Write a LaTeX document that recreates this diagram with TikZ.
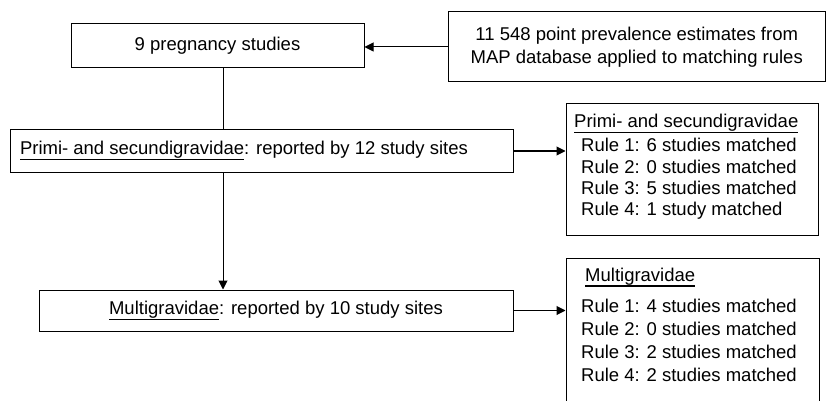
\documentclass[tikz,border=0pt]{standalone}
\usepackage{fontspec}
\setmainfont{Liberation Sans}
\usetikzlibrary{arrows.meta}
\newcommand{\ulin}[1]{\setbox0=\hbox{#1}\rlap{\rule[-5.5pt]{\wd0}{1.4pt}}\box0}

\begin{document}
\begin{tikzpicture}[x=1pt,y=-1pt,
  every node/.style={font=\fontsize{18.5}{22}\selectfont, inner sep=0pt},
  box/.style={draw, line width=1pt},
  arr/.style={-{Triangle[length=9pt,width=9pt]}, line width=1pt}]
   \useasboundingbox (0,0) rectangle (827,401);
   \clip (0,0) rectangle (827,401);
   % flow boxes
   \node[box, minimum width=293pt, minimum height=44pt] (preg) at (217.5,46) {9 pregnancy studies};
   \node[box, minimum width=377.5pt, minimum height=70pt, align=center,
         font=\fontsize{18.5}{23.5}\selectfont] (mapdb) at (636.75,47)
         {11 548 point prevalence estimates from\\MAP database applied to matching rules};
   \node[box, text width=483pt, inner xsep=10pt, minimum height=42pt, align=flush left] (primi) at (261.5,151)
         {\ulin{Primi- and secundigravidae}: reported by 12 study sites};
   \node[box, minimum width=474pt, minimum height=41pt] (multi) at (276,310.5)
         {\ulin{Multigravidae}: reported by 10 study sites};
   % result boxes
   \node[box, minimum width=252.5pt, minimum height=131pt] (primiRes) at (692.25,169.5) {};
   \node[anchor=base west] (primiHead) at (574,127.5) {\ulin{Primi- and secundigravidae}};
   \foreach \m [count=\i] in {6 studies,0 studies,5 studies,1 study}
      \node[anchor=base west] (primiRule\i) at (581,{152+21*(\i-1)}) {Rule \i: \m\ matched};
   \node[box, minimum width=253pt, minimum height=172pt] (multiRes) at (692.5,344) {};
   \node[anchor=base west] (multiHead) at (585,281) {\ulin{Multigravidae}};
   \foreach \m [count=\i] in {4 studies,0 studies,2 studies,2 studies}
      \node[anchor=base west] (multiRule\i) at (581,{312+23*(\i-1)}) {Rule \i: \m\ matched};
   % connectors
   \coordinate (spine) at (223,0);
   \draw[arr] (mapdb.west) -- (mapdb.west -| preg.east);
   \draw[line width=1pt] (preg.south -| spine) -- (primi.north -| spine);
   \draw[arr] (primi.south -| spine) -- (multi.north -| spine);
   \draw[arr] (primi.east) -- (primi.east -| primiRes.west);
   \draw[arr] (multi.east) -- (multi.east -| multiRes.west);
\end{tikzpicture}
\end{document}
